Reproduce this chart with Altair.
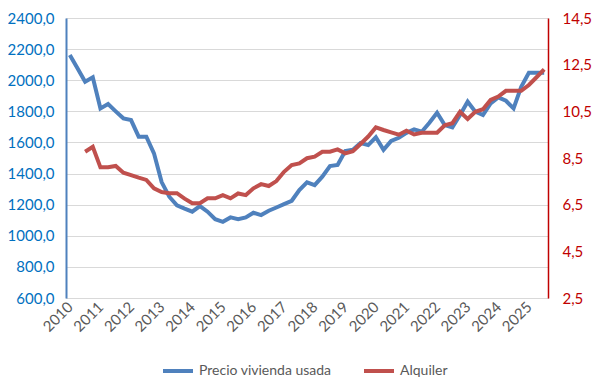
import altair as alt
import pandas as pd

# Quarterly series, 2010Q1 .. 2025Q3
precio = [
    2162, 2077, 1990, 2019,   # 2010
    1819, 1847, 1800, 1755,   # 2011
    1744, 1637, 1637, 1530,   # 2012
    1345, 1251, 1195, 1174,   # 2013
    1155, 1191, 1155, 1107,   # 2014
    1090, 1118, 1107, 1118,   # 2015
    1148, 1133, 1161, 1182,   # 2016
    1203, 1225, 1294, 1343,   # 2017
    1326, 1380, 1448, 1455,   # 2018
    1545, 1553, 1596, 1583,   # 2019
    1633, 1553, 1610, 1630,   # 2020
    1662, 1684, 1669, 1727,   # 2021
    1791, 1712, 1697, 1776,   # 2022
    1862, 1798, 1776, 1851,   # 2023
    1890, 1868, 1819, 1958,   # 2024
    2048, 2048, 2048,         # 2025
]
# Rent series starts at 2010Q3
alquiler = [
    8.77, 8.98,                 # 2010
    8.10, 8.10, 8.16, 7.87,     # 2011
    7.77, 7.66, 7.56, 7.20,     # 2012
    7.04, 6.99, 6.99, 6.76,     # 2013
    6.56, 6.56, 6.77, 6.77,     # 2014
    6.91, 6.77, 6.98, 6.91,     # 2015
    7.20, 7.38, 7.30, 7.51,     # 2016
    7.91, 8.20, 8.27, 8.49,     # 2017
    8.56, 8.77, 8.77, 8.87,     # 2018
    8.70, 8.79, 9.10, 9.42,     # 2019
    9.81, 9.70, 9.60, 9.50,     # 2020
    9.67, 9.51, 9.58, 9.58,     # 2021
    9.58, 9.90, 9.99, 10.48,    # 2022
    10.17, 10.48, 10.59, 10.99, # 2023
    11.13, 11.38, 11.38, 11.38, # 2024
    11.63, 11.96, 12.30,        # 2025
]
years = list(range(2010, 2026))
left_ticks = [600, 800, 1000, 1200, 1400, 1600, 1800, 2000, 2200, 2400]
right_ticks = [2.5, 4.5, 6.5, 8.5, 10.5, 12.5, 14.5]
series_names = ["Precio vivienda usada", "Alquiler"]

df_p = pd.DataFrame({"t": list(range(len(precio))), "v": precio, "serie": series_names[0]})
df_a = pd.DataFrame({"t": list(range(2, 2 + len(alquiler))), "v": alquiler, "serie": series_names[1]})

FONT = "Lato"
BLUE = "#4F81BD"
RED = "#C0504D"

xenc = alt.X(
    "t:Q",
    scale=alt.Scale(domain=[-0.5, 62.5], nice=False, zero=False),
    axis=alt.Axis(
        title=None, values=[(y - 2010) * 4 for y in years],
        labelExpr="format(2010 + datum.value / 4, 'd')",
        labelAngle=-45, labelAlign="right", labelBaseline="middle",
        labelFont=FONT, labelFontSize=15, labelColor="#595959",
        ticks=False, grid=False, domainColor="#D9D9D9", domainWidth=1,
        labelPadding=6, labelOverlap=False,
    ),
)

color = alt.Color(
    "serie:N",
    scale=alt.Scale(domain=series_names, range=[BLUE, RED]),
    legend=alt.Legend(
        title=None, orient="none", direction="horizontal",
        legendX=95, legendY=336,
        symbolType="stroke", symbolStrokeWidth=4, symbolSize=900,
        labelFont=FONT, labelFontSize=14, labelColor="#595959",
        columnPadding=24, padding=0, labelOffset=4,
    ),
)

left = alt.Chart(df_p).mark_line(strokeWidth=4).encode(
    x=xenc,
    y=alt.Y(
        "v:Q",
        scale=alt.Scale(domain=[600, 2400], nice=False, zero=False),
        axis=alt.Axis(
            title=None, values=left_ticks, orient="left",
            labelExpr="replace(format(datum.value, '.1f'), '.', ',')",
            labelFont=FONT, labelFontSize=15, labelColor="#0070C0",
            ticks=False, grid=True, gridColor="#D9D9D9", gridWidth=1,
            domainColor=BLUE, domainWidth=2, labelPadding=12,
        ),
    ),
    color=color,
)

right = alt.Chart(df_a).mark_line(strokeWidth=4).encode(
    x=xenc,
    y=alt.Y(
        "v:Q",
        scale=alt.Scale(domain=[2.5, 14.5], nice=False, zero=False),
        axis=alt.Axis(
            title=None, values=right_ticks, orient="right",
            labelExpr="replace(format(datum.value, '.1f'), '.', ',')",
            labelFont=FONT, labelFontSize=15, labelColor="#C00000",
            ticks=False, grid=False,
            domainColor="#C00000", domainWidth=1.5, labelPadding=14,
        ),
    ),
    color=color,
)

chart = (
    alt.layer(left, right)
    .resolve_scale(y="independent")
    .properties(
        width=482, height=280,
        autosize=alt.AutoSizeParams(type="none"),
        padding={"left": 58, "top": 10, "right": 44, "bottom": 86},
    )
    .configure_view(stroke=None)
    .configure(background="white")
    .configure_legend(offset=0)
)

chart.save("out.html", embed_options={"renderer": "svg", "actions": False})
